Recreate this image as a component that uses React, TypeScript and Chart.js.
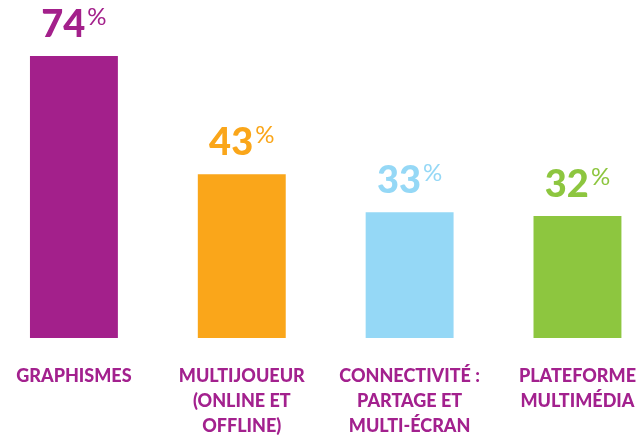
import React, { useEffect, useRef } from "react";
import { Chart, registerables } from "chart.js";

Chart.register(...registerables);

const categories: string[][] = [
  ["GRAPHISMES"],
  ["MULTIJOUEUR", "(ONLINE ET", "OFFLINE)"],
  ["CONNECTIVITÉ :", "PARTAGE ET", "MULTI-ÉCRAN"],
  ["PLATEFORME", "MULTIMÉDIA"],
];
const values: number[] = [74, 43, 33, 32];
const barColors: string[] = ["#a3208b", "#faa61a", "#95d8f6", "#8dc63f"];
const labelColor = "#a3218e";
const yMax = 88.7;

const valueLabels = {
  id: "valueLabels",
  afterDatasetsDraw(chart: any) {
    const ctx = chart.ctx as CanvasRenderingContext2D;
    const meta = chart.getDatasetMeta(0);
    meta.data.forEach((bar: any, i: number) => {
      const num = String(values[i]);
      ctx.save();
      ctx.font = "900 38px Lato";
      const w1 = ctx.measureText(num).width;
      ctx.font = "400 24px Lato";
      const w2 = ctx.measureText("%").width;
      const gap = 2;
      const total = w1 + gap + w2;
      const x0 = bar.x - total / 2;
      const yb = bar.y - 19;
      ctx.fillStyle = barColors[i];
      ctx.textAlign = "left";
      ctx.textBaseline = "alphabetic";
      ctx.font = "900 38px Lato";
      ctx.fillText(num, x0, yb);
      ctx.font = "400 24px Lato";
      ctx.fillText("%", x0 + w1 + gap, yb - 12);
      ctx.restore();
    });
  },
};

export default function App() {
  const ref = useRef<HTMLCanvasElement | null>(null);
  useEffect(() => {
    if (!ref.current) return;
    const chart = new Chart(ref.current, {
      type: "bar",
      data: {
        labels: categories,
        datasets: [
          {
            data: values,
            backgroundColor: barColors,
            borderWidth: 0,
            categoryPercentage: 1,
            barPercentage: 88 / 168,
          },
        ],
      },
      options: {
        responsive: false,
        animation: false,
        devicePixelRatio: 1,
        layout: { padding: 0 },
        plugins: {
          legend: { display: false },
          tooltip: { enabled: false },
          title: { display: false },
        },
        scales: {
          x: {
            grid: { display: false, drawTicks: false },
            border: { display: false },
            ticks: {
              color: labelColor,
              font: { family: "Lato", weight: "900", size: 18, lineHeight: 25 / 18 },
              padding: 26,
              autoSkip: false,
              maxRotation: 0,
              minRotation: 0,
            },
          },
          y: {
            display: false,
            min: 0,
            max: yMax,
          },
        },
      },
      plugins: [valueLabels],
    });
    return () => chart.destroy();
  }, []);

  return (
    <div
      style={{
        position: "fixed",
        left: 0,
        top: 0,
        width: 640,
        height: 437,
        overflow: "hidden",
        background: "#ffffff",
      }}
    >
      <canvas
        ref={ref}
        width={672}
        height={465}
        style={{ position: "absolute", left: -10, top: 0, width: 672, height: 465 }}
      />
    </div>
  );
}
